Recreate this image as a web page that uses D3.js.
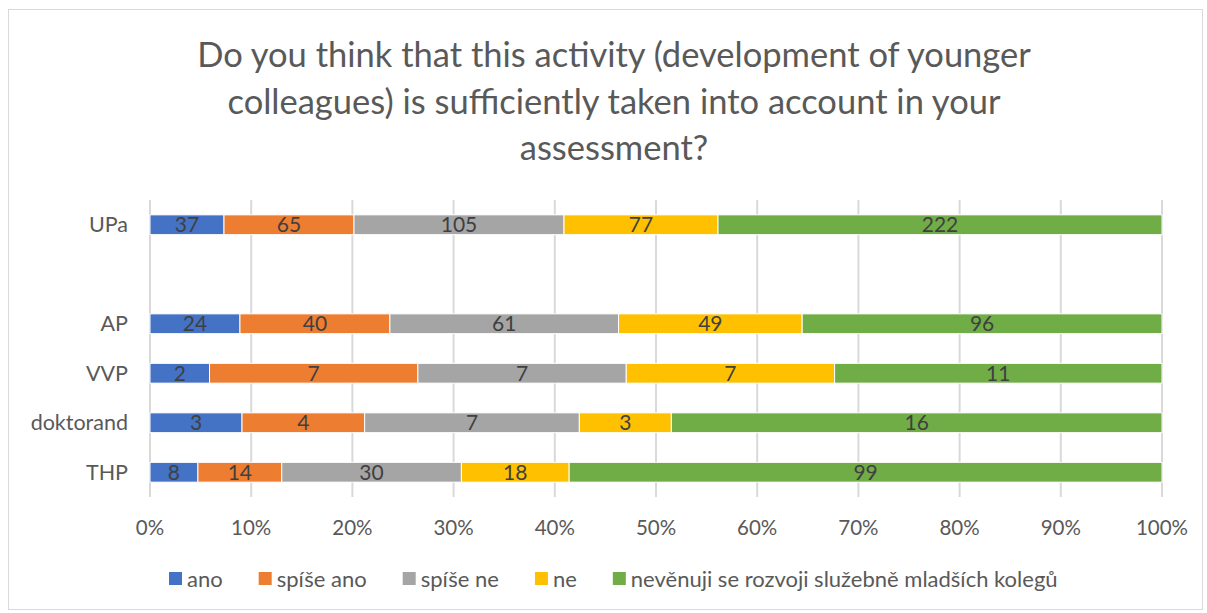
<!DOCTYPE html>
<html>
<head>
<meta charset="utf-8">
<script src="https://cdn.jsdelivr.net/npm/d3@7"></script>
<style>
  body { margin: 0; background: #fff; }
  svg { display: block; font-family: Lato, "Open Sans", sans-serif; }
</style>
</head>
<body>
<svg id="chart" width="1207" height="613"></svg>
<script>
// data
var categories = ["UPa", "", "AP", "VVP", "doktorand", "THP"];
var seriesNames = ["ano", "spíše ano", "spíše ne", "ne", "nevěnuji se rozvoji služebně mladších kolegů"];
var ano      = [37, null, 24, 2, 3, 8];
var spiseAno = [65, null, 40, 7, 4, 14];
var spiseNe  = [105, null, 61, 7, 7, 30];
var ne       = [77, null, 49, 7, 3, 18];
var nevenuji = [222, null, 96, 11, 16, 99];
var colors = ["#4472C4", "#ED7D31", "#A5A5A5", "#FFC000", "#70AD47"];
var ticks = [0, 0.1, 0.2, 0.3, 0.4, 0.5, 0.6, 0.7, 0.8, 0.9, 1];

var series = [ano, spiseAno, spiseNe, ne, nevenuji];

var svg = d3.select("#chart");

// outer border
svg.append("rect")
  .attr("x", 8.5).attr("y", 9.5)
  .attr("width", 1194).attr("height", 600)
  .attr("fill", "#fff").attr("stroke", "#d9d9d9");

// title
var title = ["Do you think that this activity (development of younger",
             "colleagues) is sufficiently taken into account in your",
             "assessment?"];
svg.append("text")
  .attr("x", 614).attr("y", 67)
  .attr("text-anchor", "middle")
  .attr("fill", "#595959")
  .style("font-size", "34.5px")
  .selectAll("tspan").data(title).enter().append("tspan")
  .attr("x", 614).attr("dy", function(d, i) { return i ? 46.5 : 0; })
  .text(function(d) { return d; });

var margin = {left: 150, right: 45, top: 200, bottom: 116};
var width = 1207 - margin.left - margin.right;
var height = 613 - margin.top - margin.bottom;

var g = svg.append("g").attr("transform", "translate(" + margin.left + "," + margin.top + ")");

var x = d3.scaleLinear().domain([0, 1]).range([0, width]);
var y = d3.scaleBand().domain(d3.range(categories.length)).range([0, height]).paddingInner(0.6).paddingOuter(0.3);

// gridlines
g.selectAll("line.grid").data(ticks).enter().append("line")
  .attr("x1", function(d) { return x(d); }).attr("x2", function(d) { return x(d); })
  .attr("y1", 0).attr("y2", height)
  .attr("stroke", "#d9d9d9").attr("stroke-width", 2);

// tick labels
g.selectAll("text.tick").data(ticks).enter().append("text")
  .attr("x", function(d) { return x(d); })
  .attr("y", height + 38)
  .attr("text-anchor", "middle")
  .attr("fill", "#595959")
  .style("font-size", "20.5px")
  .text(function(d) { return Math.round(d * 100) + "%"; });

// category labels
g.selectAll("text.cat").data(categories).enter().append("text")
  .attr("x", -22)
  .attr("y", function(d, i) { return y(i) + y.bandwidth() / 2; })
  .attr("dy", "0.35em")
  .attr("text-anchor", "end")
  .attr("fill", "#595959")
  .style("font-size", "21.5px")
  .text(function(d) { return d; });

// stacked bars
categories.forEach(function(c, i) {
  if (ano[i] == null) return;
  var total = d3.sum(series, function(s) { return s[i]; });
  var acc = 0;
  series.forEach(function(s, k) {
    var x0 = x(acc / total);
    acc += s[i];
    var x1 = x(acc / total);
    g.append("rect")
      .attr("x", x0).attr("y", y(i))
      .attr("width", x1 - x0).attr("height", y.bandwidth())
      .attr("fill", colors[k])
      .attr("stroke", "#fff").attr("stroke-width", 1);
    g.append("text")
      .attr("x", (x0 + x1) / 2)
      .attr("y", y(i) + y.bandwidth() / 2)
      .attr("dy", "0.36em")
      .attr("text-anchor", "middle")
      .attr("fill", "#404040")
      .style("font-size", "21px")
      .text(s[i]);
  });
});

// legend
var legend = svg.append("g").attr("transform", "translate(0,579)");
var lx = 169;
seriesNames.forEach(function(name, k) {
  var item = legend.append("g").attr("transform", "translate(" + lx + ",0)");
  item.append("rect").attr("x", 0).attr("y", -7).attr("width", 13).attr("height", 13).attr("fill", colors[k]);
  var t = item.append("text").attr("x", 18).attr("y", 0).attr("dy", "0.35em")
    .attr("fill", "#595959").style("font-size", "22px").text(name);
  lx += 18 + t.node().getComputedTextLength() + 36;
});
</script>
</body>
</html>
